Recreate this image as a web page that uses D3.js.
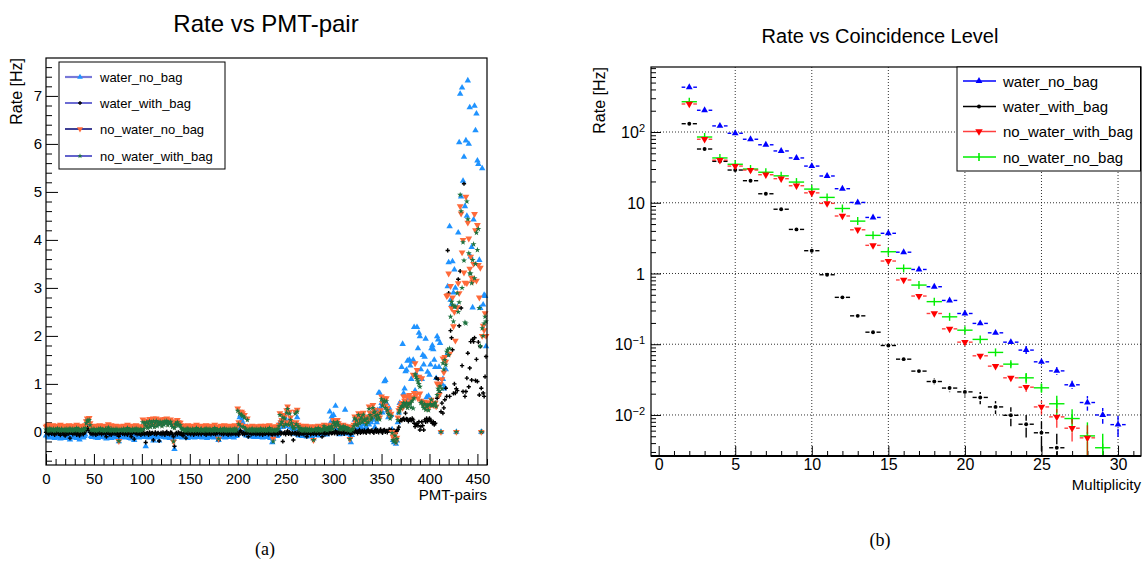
<!DOCTYPE html>
<html>
<head>
<meta charset="utf-8">
<script src="https://cdn.jsdelivr.net/npm/d3@7"></script>
<style>
  body { margin: 0; background: #fff; }
  svg text { font-family: "Liberation Sans", Arial, Helvetica, sans-serif; fill: #000; }
  .axis path { display: none; }
  .axis line { stroke: #000; stroke-width: 1; }
  .grid line { stroke: #000; stroke-width: 1; stroke-dasharray: 1, 2; opacity: 0.8; }
  .caption { font-family: "Liberation Serif", "Times New Roman", serif !important; }
</style>
</head>
<body>
<svg id="chart" width="1142" height="562"></svg>
<script>
// ---------- panel (a): rate per PMT pair, one value per pair index 0..459
var rateWaterNoBag = [
  -.08,-.06,-.1,-.12,-.07,-.09,-.11,-.06,-.09,-.13,-.08,-.1,-.07,-.12,-.09,-.14,-.08,-.1,-.06,-.11,
  -.13,-.09,-.07,-.11,-.1,-.16,-.08,-.09,-.12,-.07,-.1,-.09,-.13,-.08,-.11,-.16,-.09,-.07,-.1,-.12,
  -.09,-.06,.05,.12,.1,.08,.01,-.09,-.11,-.08,-.1,-.07,-.12,-.09,-.13,-.08,-.1,-.06,-.09,-.11,
  -.08,-.1,-.12,-.14,-.09,-.07,-.11,-.09,-.13,-.08,-.1,-.06,-.09,-.12,-.08,-.1,-.2,-.11,-.09,-.07,
  -.1,-.12,-.08,-.09,-.11,-.07,-.1,-.13,-.09,-.14,-.08,-.1,-.17,-.09,-.07,-.11,-.09,-.12,-.08,-.1,
  -.09,-.07,-.11,-.08,-.3,-.1,-.09,-.12,-.08,-.1,-.07,-.11,-.18,-.09,-.08,-.1,-.12,-.09,-.18,-.08,
  -.1,-.07,-.09,-.11,-.08,-.12,-.09,-.07,-.1,-.13,-.08,-.09,-.11,-.15,-.36,-.1,-.09,-.07,-.11,-.08,
  -.1,-.09,-.12,-.08,-.1,-.07,-.11,-.09,-.13,-.08,-.1,-.09,-.07,-.11,-.08,-.12,-.09,-.1,-.07,-.09,
  -.11,-.08,-.1,-.12,-.09,-.07,-.1,-.08,-.13,-.09,-.11,-.07,-.09,-.1,-.08,-.12,-.09,-.07,-.1,-.11,
  -.17,-.09,-.08,-.1,-.07,-.11,-.09,-.12,-.08,-.1,-.09,-.07,-.11,-.08,-.1,-.09,-.12,-.07,-.09,-.08,
  -.04,.05,.3,.35,.25,.2,.3,.02,-.06,-.08,.1,-.08,-.06,-.1,-.07,-.09,-.08,-.11,-.06,-.08,
  -.1,-.08,-.11,-.09,-.07,-.1,-.12,-.08,-.09,-.07,-.11,-.09,-.1,-.08,-.13,-.1,-.22,-.14,-.09,-.08,
  -.06,-.09,-.07,.05,.2,.15,.22,.1,.25,.3,.12,.2,.4,.18,.25,.1,.22,.08,.05,-.04,
  .15,.05,.3,-.06,-.08,.0,-.07,-.09,.03,-.06,-.08,-.05,-.1,-.07,0,-.08,-.06,-.09,-.05,-.14,
  -.06,-.04,-.07,.03,-.05,-.08,-.04,.05,-.06,-.05,.1,-.04,.05,-.06,.08,.03,.42,.2,.32,.15,
  .35,.1,.54,.05,.15,.02,-.05,.08,.02,-.04,.1,.05,.46,.03,-.04,.05,.02,-.1,-.22,-.07,
  .02,.1,.25,.15,.2,.05,.28,.02,.1,.2,.05,.15,.25,.08,.1,.05,.02,.15,.3,.2,
  .35,.25,.4,.1,.3,.2,.45,.81,.81,.5,.6,.4,.55,1.05,1.08,.6,.45,.3,.5,.4,
  .35,.05,-.17,-.22,-.2,-.25,-.18,.2,.4,.6,.5,1.35,1.83,.8,.9,1.26,1.29,1.48,.7,1.5,
  1.38,1.1,1.46,1.5,2.18,.86,1.2,2.18,1.74,2.06,1.99,1.3,1.1,1.6,1.4,1.56,1.94,.72,1.25,.75,
  1.19,1.4,1.74,1.8,1.72,1.5,1.35,1.12,1.99,1.92,1.35,1.85,0,1.0,1.1,.9,.93,1.3,1.6,3.03,
  3.53,4.28,2.75,2.65,3.55,2.9,3.38,3.0,0,2.6,4.15,6.03,7.04,4.9,7.17,5.23,5.73,4.7,6.07,4.5,
  7.32,6.0,6.76,3.65,3.85,2.59,4.42,6.79,6.28,6.63,5.65,5.58,3.58,2.58,0,5.49,2.65,2.85,2.83,1.78
];
var rateWaterWithBag = [
  -.01,.02,-.03,-.05,0,-.02,-.04,.01,-.03,-.06,-.01,-.03,.02,-.04,-.02,-.07,-.01,-.03,0,-.05,
  -.08,-.02,-.01,-.04,-.03,-.13,-.02,0,-.05,-.01,-.03,-.02,-.06,-.01,-.04,-.08,-.02,0,-.03,-.05,
  -.02,0,.05,.11,.06,.03,-.01,-.04,-.02,-.05,-.01,-.03,-.06,-.02,-.04,0,-.03,-.01,-.05,-.02,
  -.03,-.01,-.04,-.1,-.02,0,-.05,-.03,-.06,-.01,-.03,.01,-.04,-.02,-.05,-.03,-.09,-.04,-.02,0,
  -.04,-.02,-.05,-.01,-.03,-.06,-.02,0,-.04,-.1,-.03,-.01,-.15,-.03,-.02,-.05,-.01,-.04,-.02,-.06,
  -.02,-.04,-.01,-.05,-.22,-.03,-.02,-.06,-.01,-.04,-.03,-.02,-.17,-.04,-.01,-.05,-.03,-.02,-.19,-.04,
  -.02,-.05,-.01,-.03,-.06,-.02,0,-.04,-.03,-.05,-.01,-.02,-.06,-.1,-.3,-.04,-.02,-.05,-.01,-.03,
  -.04,-.02,-.05,-.08,-.01,-.03,-.13,-.02,-.04,0,-.03,-.05,-.01,-.02,-.06,-.03,-.01,-.04,-.02,-.05,
  -.01,-.03,-.05,-.02,0,-.04,-.02,-.06,-.03,-.01,-.04,-.02,-.05,-.03,0,-.04,-.02,-.05,-.01,-.03,
  -.17,-.03,-.01,-.04,-.02,-.05,-.03,0,-.04,-.02,-.06,-.01,-.03,-.05,-.02,-.04,-.01,-.03,-.05,-.02,
  -.03,-.06,0,.03,-.01,-.04,-.02,-.05,-.01,-.03,-.02,-.1,-.03,-.01,-.05,-.02,-.04,0,-.03,-.05,
  -.02,-.04,-.01,-.05,-.03,-.02,-.06,-.01,-.03,-.04,-.02,0,-.05,-.03,-.01,-.04,-.06,-.02,-.03,-.05,
  -.01,-.03,-.05,-.02,0,-.04,-.02,-.2,-.03,-.01,-.05,-.02,.02,-.04,-.01,-.03,-.05,-.02,-.17,-.03,
  -.02,-.05,-.01,-.03,-.06,-.02,0,-.04,-.02,-.05,-.01,-.03,-.1,-.04,-.02,-.01,-.05,-.03,-.02,-.04,
  -.01,-.03,-.05,-.02,0,-.04,-.02,-.01,-.1,-.03,-.02,-.05,0,-.03,.02,-.04,-.01,.01,-.03,-.02,
  0,-.03,.02,-.01,-.04,.01,-.02,0,-.03,.02,-.01,-.04,0,.03,-.02,-.01,.02,-.03,-.05,0,
  -.02,.02,-.01,.03,0,-.03,.01,.04,-.02,0,.02,-.01,.03,0,-.02,.02,.04,0,-.01,.02,
  .03,0,-.02,.02,.05,0,.03,-.01,.02,.05,.01,-.02,.03,.04,0,.02,-.01,.39,.05,.02,
  .04,0,-.02,.03,.01,-.03,.02,.05,.1,.22,.25,.24,.26,.28,.25,.39,.27,.26,.22,.25,
  .26,.24,.28,.25,.18,.11,.15,.17,.13,.21,.04,.11,.21,.13,.04,.25,.21,.28,.22,.25,
  .28,.25,.21,.18,.21,.15,.18,1.12,.7,1.1,.75,.81,.42,.6,.39,.5,.67,.91,.74,3.78,
  2.89,.74,2.11,1.96,1.71,.8,1.0,.81,.9,.86,3.18,2.21,3.35,2.58,1.38,.84,5.17,.74,.84,1.12,
  1.64,.94,1.33,1.88,1.08,1.93,1.88,1.96,1.07,1.51,1.05,1.87,.77,1.78,.91,0,.81,.74,1.15,1.57
];
var rateNoWaterNoBag = [
  .11,.13,.09,.15,.08,.12,.1,.14,.07,.11,.09,.13,.1,.08,.12,.15,.09,.11,.07,.13,
  .1,.08,.12,.09,.14,.11,.07,.1,.13,.08,.11,.09,.15,.1,.07,.12,.09,.13,.08,.11,
  .1,.14,.22,.28,.26,.29,.18,.09,.12,.08,.11,.13,.09,.07,.12,.1,.14,.08,.11,.09,
  .13,.1,.07,.12,.09,.16,.08,.11,.14,.09,.07,.12,.1,.13,.08,.11,-.19,.09,.12,.07,
  .1,.13,.08,.11,.09,.15,.07,.12,.1,.08,.13,.09,.11,.07,.14,.1,.08,.12,.09,.11,
  .09,.26,.12,.22,.18,.24,.13,.2,.27,.15,.25,.2,.28,.14,.22,.28,.18,.24,.2,.26,
  .22,.16,.26,.2,.27,.24,.28,.18,.25,.22,.26,.2,.15,-.2,.12,.22,.18,.25,.2,.19,
  .19,.14,.11,.13,.09,.12,.08,.11,.14,.1,.07,.12,.09,.13,.1,.08,.11,.15,.09,.12,
  .08,.11,.13,.09,.07,.12,.1,.14,.08,.11,.09,.13,.1,.07,.12,.09,.15,.11,.08,.1,
  -.14,.09,.13,.08,.11,.1,.14,.07,.12,.09,.11,.08,.13,.1,.07,.11,.09,.14,.08,.11,
  .49,.2,.42,.15,.42,.39,.12,.35,.12,.09,.28,.08,.11,.07,.1,.13,.08,.07,.11,.09,
  .12,.08,.11,.09,.13,.1,.07,.12,.09,.13,.08,.11,.1,.14,.09,.07,.12,-.14,.1,.08,
  .1,.08,.12,.15,.39,.2,.25,.35,.15,.32,.2,.45,.53,.18,.42,.3,.21,.15,.12,.13,
  .42,.2,.46,.15,.1,.13,.08,.12,.07,.11,.09,.13,.07,.1,.08,.12,.07,.1,.08,-.17,
  .09,.12,.07,.1,.13,.08,.11,.07,.09,.12,.15,.1,.12,.08,.11,.14,.1,.12,.15,.11,
  .25,.2,.15,.22,.25,.18,.11,.14,.09,.12,.15,.11,.13,.08,.1,.12,.08,-.15,.07,.1,
  .1,.15,.32,.2,.28,.18,.39,.22,.3,.35,.25,.4,.3,.28,.2,.32,.25,.53,.4,.3,
  .35,.56,.45,.46,.38,.3,.4,.35,.3,.45,.74,.6,.67,.7,.55,.7,.5,.42,.42,.32,
  .38,0,-.1,-.15,-.05,-.2,-.12,.3,.45,.5,.55,.6,.5,.74,.65,.6,.74,.55,.62,.77,
  .7,.65,.72,1.19,.81,1.43,.77,1.29,.7,1.15,.8,.65,1.12,.6,.55,.63,.5,.6,.58,.49,
  .56,.62,.67,.58,.56,.6,.61,.53,1.01,.98,.77,1.0,0,1.1,1.53,1.24,1.56,1.46,2.83,2.85,
  3.3,1.63,3.04,2.58,2.8,2.2,2.5,1.9,0,2.6,3.1,2.89,4.7,4.55,3.74,4.0,3.32,3.11,4.9,3.1,
  4.36,4.03,3.4,3.65,3.21,3.13,3.5,4.54,4.2,3.15,4.31,3.48,2.8,3.42,0,2.0,2.21,2.12,2.47,2.0
];
var rateNoWaterWithBag = [
  .05,.03,.06,.02,.07,.04,.05,.03,.06,.02,.05,.04,.07,.03,.05,.02,.06,.04,.03,.05,
  .04,.06,.02,.05,.03,.07,.04,.02,.06,.03,.05,.04,.08,.03,.06,.04,.02,.05,.03,.06,
  .04,.08,.18,.24,.22,.25,.14,.04,.05,.03,.06,.04,.02,.05,.03,.06,.04,.07,.03,.05,
  .04,.02,.06,.03,.05,.09,.04,.02,.06,.03,.05,.04,.02,.06,.03,.05,-.19,.04,.03,.05,
  .03,.06,.04,.02,.05,.08,.03,.05,.04,.02,.06,.03,.05,.04,.07,.03,.05,.02,.04,.06,
  .03,.2,.06,.18,.13,.2,.08,.16,.22,.1,.2,.15,.22,.1,.18,.23,.12,.2,.15,.21,
  .18,.12,.2,.15,.22,.19,.23,.14,.2,.17,.21,.15,.1,-.2,.08,.17,.14,.2,.15,.14,
  .14,.08,.05,.06,.03,.05,.02,.06,.07,.04,.02,.05,.03,.06,.04,.02,.05,.08,.03,.05,
  .02,.05,.06,.03,.02,.05,.04,.07,.02,.05,.03,.06,.04,.02,.05,.03,.08,.04,.03,.05,
  -.14,.03,.06,.02,.05,.04,.07,.02,.05,.03,.05,.02,.06,.04,.02,.05,.03,.07,.02,.05,
  .44,.16,.38,.12,.36,.33,.1,.3,.07,.04,.25,.03,.05,.02,.04,.07,.03,.02,.05,.04,
  .06,.02,.04,.03,.07,.04,.02,.05,.03,.06,.02,.05,.04,.08,.03,.02,.05,-.2,.04,.02,
  .05,.03,.06,.12,.35,.16,.21,.3,.12,.28,.16,.4,.48,.15,.38,.25,.18,.12,.07,.08,
  .38,.16,.42,.12,.05,.08,.03,.06,.02,.05,.04,.07,.02,.05,.03,.06,.02,.05,.03,-.17,
  .04,.06,.02,.05,.08,.03,.05,.02,.04,.06,.12,.05,.08,.03,.06,.1,.05,.08,.12,.06,
  .2,.16,.12,.18,.2,.15,.06,.1,.05,.08,.12,.06,.1,.04,.06,.08,.03,-.15,.02,.05,
  .06,.12,.28,.16,.24,.14,.35,.18,.26,.3,.2,.36,.26,.24,.16,.28,.2,.48,.35,.26,
  .3,.5,.4,.42,.33,.26,.35,.3,.26,.4,.68,.55,.62,.65,.5,.64,.45,.38,.36,.28,
  .33,-.02,-.17,-.2,-.08,-.22,-.15,.25,.4,.45,.5,.53,.53,.6,.58,.55,.61,.5,.56,.58,
  .6,.51,.65,.49,.7,1.2,1.15,1.1,1.05,1.0,.94,.6,.63,.55,.5,.58,.46,.53,.55,.45,
  .56,.58,.67,.55,.56,.58,.61,.53,.77,.9,.85,.95,0,.9,1.43,1.3,1.5,1.4,1.67,1.71,
  1.6,1.74,2.4,2.71,2.65,2.3,2.61,2.61,0,2.89,2.5,2.7,4.94,4.6,3.0,3.95,3.57,2.28,2.26,4.8,
  4.43,3.72,3.3,3.3,3.1,3.58,3.91,3.2,3.5,4.15,3.79,4.23,2.58,1.79,0,2.16,2.0,2.26,2.4,2.3
];
var pmtTicks = [0, 50, 100, 150, 200, 250, 300, 350, 400, 450];
var rateTicks = [0, 1, 2, 3, 4, 5, 6, 7];

// ---------- panel (b): rate per coincidence level
var multiplicity = [2,3,4,5,6,7,8,9,10,11,12,13,14,15,16,17,18,19,20,21,22,23,24,25,26,27,28,29,30];
var levelWaterNoBag = [430,203,122,96,79,66,54,43,33,23.9,15.8,10.1,6.2,3.7,2.0,1.14,.65,.416,.272,.197,.145,.107,.0826,.0564,.042,.0267,.015,.010,.0073];
var errWaterNoBag   = [0,0,0,0,0,0,0,0,0,0,0,0,0,0,0,0,0,0,0,0,0,0,.004,.008,.0045,.0027,.0035,.0025,.0024];
var levelWaterWithBag = [131,57.5,38.5,29,20.5,13.4,8.1,4.2,2.1,.96,.46,.252,.148,.096,.0615,.0417,.0297,.024,.0212,.0177,.013,.0099,.0074,.0056,.00344];
var errWaterWithBag   = [0,0,0,0,0,0,0,0,0,0,0,0,0,0,0,0,.003,.003,.003,.0035,.0027,.003,.0026,.0025,.002];
var levelNoWaterWithBag = [249,79,40,33,29,24.9,21.9,17.4,13.8,9.8,6.5,4.15,2.5,1.5,.81,.48,.272,.165,.107,.0686,.049,.0335,.0247,.013,.0094,.0065,.00475];
var errNoWaterWithBag   = [0,0,0,0,0,0,0,0,0,0,0,0,0,0,0,0,0,0,0,0,0,0,.0035,.0029,.0028,.0023,.0024];
var levelNoWaterNoBag = [268,85,43,35,30,27,24,19.6,15.6,11.9,8.3,5.5,3.46,2.03,1.18,.686,.40,.244,.158,.117,.0766,.0523,.0335,.0242,.0144,.0089,.00506,.00344];
var errNoWaterNoBag   = [0,0,0,0,0,0,0,0,0,0,0,0,0,0,0,0,0,0,0,0,0,.004,.0057,.0036,.0043,.0031,.0028,.002];
var multTicks = [0, 5, 10, 15, 20, 25, 30];
var levelDecades = [0.01, 0.1, 1, 10, 100];
var levelDecadeLabels = ["10|\u22122", "10|\u22121", "1", "10", "10|2"];

var svg = d3.select("#chart");

var symbolPath = function(shape, size) {
  if (shape == "up" || shape == "down") return d3.symbol().type(d3.symbolTriangle).size(size)();
  if (shape == "star") return d3.symbol().type(d3.symbolStar).size(size)();
  if (shape == "cross") return d3.symbol().type(d3.symbolCross).size(size)();
  return d3.symbol().type(d3.symbolCircle).size(size)();
};
var placeSymbol = function(shape, x, y) {
  return "translate(" + x + "," + y + ")" + (shape == "down" ? " rotate(180)" : "");
};

// ====================== panel (a) ======================
var frameA = { left: 46, right: 487, top: 58, bottom: 465 };
var xA = d3.scaleLinear().domain([0, 460]).range([frameA.left, frameA.right]);
var yA = d3.scaleLinear().domain([-0.69, 7.79]).range([frameA.bottom, frameA.top]);

var panelA = svg.append("g");

panelA.append("text")
  .attr("x", 266).attr("y", 32)
  .attr("text-anchor", "middle")
  .style("font-size", "24px")
  .text("Rate vs PMT-pair");

// axes, ticks pointing into the frame
panelA.append("g").attr("class", "axis")
  .attr("transform", "translate(0," + frameA.bottom + ")")
  .call(d3.axisBottom(xA).tickValues(d3.range(0, 461, 10).filter(v => v % 50)).tickSize(-6).tickFormat(""));
panelA.append("g").attr("class", "axis")
  .attr("transform", "translate(0," + frameA.bottom + ")")
  .call(d3.axisBottom(xA).tickValues(pmtTicks).tickSize(-11).tickPadding(8))
  .selectAll("text").style("font-size", "15px");
panelA.append("g").attr("class", "axis")
  .attr("transform", "translate(" + frameA.left + ",0)")
  .call(d3.axisLeft(yA).tickValues(d3.range(-6, 78, 2).filter(v => v % 10).map(v => v / 10)).tickSize(-6).tickFormat(""));
panelA.append("g").attr("class", "axis")
  .attr("transform", "translate(" + frameA.left + ",0)")
  .call(d3.axisLeft(yA).tickValues(rateTicks).tickSize(-12).tickPadding(4))
  .selectAll("text").style("font-size", "15px");

panelA.append("text")
  .attr("x", frameA.right).attr("y", 500)
  .attr("text-anchor", "end")
  .style("font-size", "15px")
  .text("PMT-pairs");
panelA.append("text")
  .attr("transform", "translate(22," + frameA.top + ") rotate(-90)")
  .attr("text-anchor", "end")
  .style("font-size", "16px")
  .text("Rate [Hz]");

var seriesA = [
  { name: "water_no_bag", values: rateWaterNoBag, color: "#1f93ff", shape: "up", size: 18, line: "#7878d8", lw: 2.2 },
  { name: "water_with_bag", values: rateWaterWithBag, color: "#000000", shape: "cross", size: 10, line: "#4848c8", lw: 1.6 },
  { name: "no_water_no_bag", values: rateNoWaterNoBag, color: "#ff6a3a", shape: "down", size: 20, line: "#10107a", lw: 1.6 },
  { name: "no_water_with_bag", values: rateNoWaterWithBag, color: "#1e7340", shape: "star", size: 11, line: "#3c3cc0", lw: 1.6 }
];

var pointsA = panelA.append("g");
seriesA.forEach(function(s) {
  pointsA.append("g")
    .attr("class", "series")
    .selectAll("path")
    .data(s.values)
    .enter()
    .append("path")
    .attr("d", symbolPath(s.shape, s.size))
    .attr("transform", (d, i) => placeSymbol(s.shape, xA(i), yA(d)))
    .attr("fill", s.color);
});

panelA.append("rect")
  .attr("x", frameA.left).attr("y", frameA.top)
  .attr("width", frameA.right - frameA.left)
  .attr("height", frameA.bottom - frameA.top)
  .attr("fill", "none").attr("stroke", "#000").attr("stroke-width", 1.2);

// legend
var legendA = panelA.append("g");
legendA.append("rect")
  .attr("x", 59).attr("y", 62).attr("width", 166).attr("height", 107)
  .attr("fill", "#fff").attr("stroke", "#000");
seriesA.forEach(function(s, i) {
  var ly = [77, 103, 129, 156][i];
  legendA.append("line")
    .attr("x1", 65).attr("x2", 92).attr("y1", ly).attr("y2", ly)
    .attr("stroke", s.line).attr("stroke-width", s.lw);
  legendA.append("path")
    .attr("d", symbolPath(s.shape, s.size * 0.8))
    .attr("transform", placeSymbol(s.shape, 80, ly))
    .attr("fill", s.color);
  legendA.append("text")
    .attr("x", 100).attr("y", ly + 5)
    .style("font-size", "13px")
    .text(s.name);
});

panelA.append("text")
  .attr("class", "caption")
  .attr("x", 265).attr("y", 555)
  .attr("text-anchor", "middle")
  .style("font-size", "18px")
  .text("(a)");

// ====================== panel (b) ======================
var frameB = { left: 651, right: 1141, top: 67, bottom: 456 };
var xB = d3.scaleLinear().domain([-0.5, 31.5]).range([frameB.left, frameB.right]);
var yB = d3.scaleLog().domain([0.00263, 830]).range([frameB.bottom, frameB.top]);

var panelB = svg.append("g");

panelB.append("text")
  .attr("x", 880).attr("y", 43)
  .attr("text-anchor", "middle")
  .style("font-size", "20px")
  .text("Rate vs Coincidence Level");

// grid
panelB.append("g").attr("class", "grid")
  .selectAll("line").data(multTicks.filter(d => d > 0)).enter().append("line")
  .attr("x1", d => xB(d)).attr("x2", d => xB(d))
  .attr("y1", frameB.top).attr("y2", frameB.bottom);
panelB.append("g").attr("class", "grid")
  .selectAll("line").data(levelDecades).enter().append("line")
  .attr("x1", frameB.left).attr("x2", frameB.right)
  .attr("y1", d => yB(d)).attr("y2", d => yB(d));

// axes
panelB.append("g").attr("class", "axis")
  .attr("transform", "translate(0," + frameB.bottom + ")")
  .call(d3.axisBottom(xB).tickValues(d3.range(0, 32).filter(v => v % 5)).tickSize(-5).tickFormat(""));
panelB.append("g").attr("class", "axis")
  .attr("transform", "translate(0," + frameB.bottom + ")")
  .call(d3.axisBottom(xB).tickValues(multTicks).tickSize(-10).tickPadding(3))
  .selectAll("text").style("font-size", "16px");

var minorLog = [];
[0.001, 0.01, 0.1, 1, 10, 100].forEach(function(dec) {
  for (var k = 2; k <= 9; k++) {
    var v = dec * k;
    if (v > 0.00263 && v < 830) minorLog.push(v);
  }
});
panelB.append("g").attr("class", "axis")
  .attr("transform", "translate(" + frameB.left + ",0)")
  .call(d3.axisLeft(yB).tickValues(minorLog).tickSize(-5).tickFormat(""));
var yAxisB = panelB.append("g").attr("class", "axis")
  .attr("transform", "translate(" + frameB.left + ",0)")
  .call(d3.axisLeft(yB).tickValues(levelDecades).tickSize(-10).tickPadding(6).tickFormat(""));
yAxisB.selectAll(".tick").each(function(d, i) {
  var parts = levelDecadeLabels[i].split("|");
  var t = d3.select(this).append("text")
    .attr("x", -6).attr("dy", "0.35em")
    .attr("text-anchor", "end")
    .style("font-size", "16px");
  t.append("tspan").text(parts[0]);
  if (parts[1]) {
    t.append("tspan").attr("dy", "-0.55em").style("font-size", "11px").text(parts[1]);
  }
});

panelB.append("text")
  .attr("x", frameB.right).attr("y", 490)
  .attr("text-anchor", "end")
  .style("font-size", "15px")
  .text("Multiplicity");
panelB.append("text")
  .attr("transform", "translate(605," + frameB.top + ") rotate(-90)")
  .attr("text-anchor", "end")
  .style("font-size", "16px")
  .text("Rate [Hz]");

var seriesB = [
  { name: "water_no_bag", values: levelWaterNoBag, errors: errWaterNoBag, color: "#0000ff", shape: "up", size: 20, gap: 4 },
  { name: "water_with_bag", values: levelWaterWithBag, errors: errWaterWithBag, color: "#000000", shape: "dot", size: 12, gap: 3.5 },
  { name: "no_water_with_bag", values: levelNoWaterWithBag, errors: errNoWaterWithBag, color: "#ff0000", shape: "down", size: 24, gap: 4 },
  { name: "no_water_no_bag", values: levelNoWaterNoBag, errors: errNoWaterNoBag, color: "#00ee00", shape: "plus", size: 0, gap: 0 }
];

var clipY = function(v) { return Math.max(frameB.top, Math.min(frameB.bottom, yB(Math.max(v, 1e-4)))); };

var drawOrder = [seriesB[0], seriesB[1], seriesB[3], seriesB[2]];
drawOrder.forEach(function(s) {
  var g = panelB.append("g").attr("class", "series");
  s.values.forEach(function(v, i) {
    var m = multiplicity[i];
    var cx = xB(m), cy = yB(v);
    var e = s.errors[i];
    var barOpacity = s.shape == "down" ? 0.75 : 1;
    g.append("line")
      .attr("x1", xB(m - 0.5)).attr("x2", cx - s.gap)
      .attr("y1", cy).attr("y2", cy)
      .attr("stroke", s.color).attr("stroke-width", 1.4).attr("opacity", barOpacity);
    g.append("line")
      .attr("x1", cx + s.gap).attr("x2", xB(m + 0.5))
      .attr("y1", cy).attr("y2", cy)
      .attr("stroke", s.color).attr("stroke-width", 1.4).attr("opacity", barOpacity);
    if (e > 0) {
      g.append("line")
        .attr("x1", cx).attr("x2", cx)
        .attr("y1", clipY(v + e)).attr("y2", cy - s.gap)
        .attr("stroke", s.color).attr("stroke-width", 1.4).attr("opacity", barOpacity);
      g.append("line")
        .attr("x1", cx).attr("x2", cx)
        .attr("y1", cy + s.gap).attr("y2", clipY(v - e))
        .attr("stroke", s.color).attr("stroke-width", 1.4).attr("opacity", barOpacity);
    }
    if (s.shape == "plus") {
      g.append("line")
        .attr("x1", cx).attr("x2", cx)
        .attr("y1", cy - 4).attr("y2", cy + 4)
        .attr("stroke", s.color).attr("stroke-width", 1.4);
    } else {
      g.append("path")
        .attr("d", symbolPath(s.shape, s.size))
        .attr("transform", placeSymbol(s.shape, cx, cy))
        .attr("fill", s.color);
    }
  });
});

panelB.append("rect")
  .attr("x", frameB.left).attr("y", frameB.top)
  .attr("width", frameB.right - frameB.left)
  .attr("height", frameB.bottom - frameB.top)
  .attr("fill", "none").attr("stroke", "#000").attr("stroke-width", 1.2);
panelB.append("line")
  .attr("x1", frameB.left).attr("x2", frameB.right)
  .attr("y1", frameB.bottom).attr("y2", frameB.bottom)
  .attr("stroke", "#000").attr("stroke-width", 2);

// legend
var legendB = panelB.append("g");
legendB.append("rect")
  .attr("x", 957).attr("y", 67).attr("width", 183.5).attr("height", 104)
  .attr("fill", "#fff").attr("stroke", "#000");
seriesB.forEach(function(s, i) {
  var ly = [81, 106.5, 131.5, 157][i];
  legendB.append("line")
    .attr("x1", 963).attr("x2", 996).attr("y1", ly).attr("y2", ly)
    .attr("stroke", s.color).attr("stroke-width", 1.6)
    .attr("opacity", s.shape == "down" ? 0.75 : 1);
  if (s.shape == "plus") {
    legendB.append("line")
      .attr("x1", 979).attr("x2", 979).attr("y1", ly - 4).attr("y2", ly + 4)
      .attr("stroke", s.color).attr("stroke-width", 1.6);
  } else {
    legendB.append("path")
      .attr("d", symbolPath(s.shape, s.size))
      .attr("transform", placeSymbol(s.shape, 979, ly))
      .attr("fill", s.color);
  }
  legendB.append("text")
    .attr("x", 1003).attr("y", ly + 5.5)
    .style("font-size", "15px")
    .text(s.name);
});

panelB.append("text")
  .attr("class", "caption")
  .attr("x", 880).attr("y", 546)
  .attr("text-anchor", "middle")
  .style("font-size", "18px")
  .text("(b)");
</script>
</body>
</html>
